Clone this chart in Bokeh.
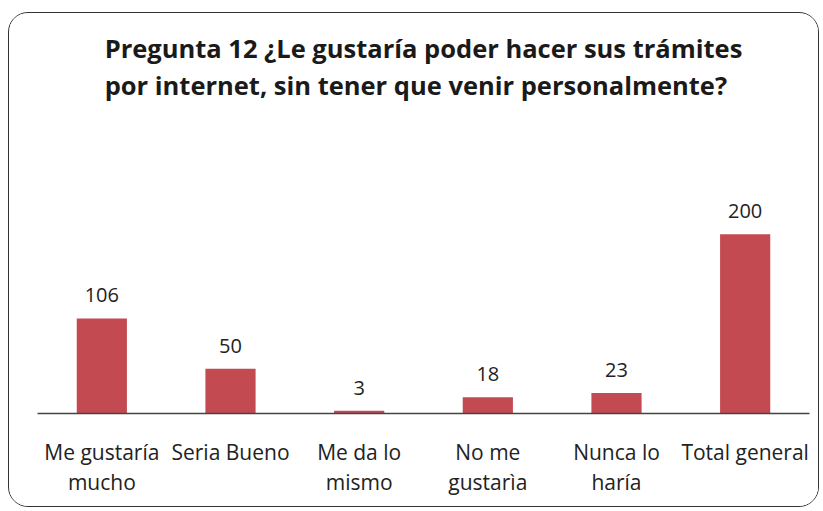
from bokeh.plotting import figure
from bokeh.models import ColumnDataSource, LabelSet, Range1d, InlineStyleSheet
from bokeh.core.properties import value
from bokeh.embed import file_html
from bokeh.resources import INLINE

categories = ["Me gustaría\nmucho", "Seria Bueno", "Me da lo\nmismo", "No me\ngustarìa", "Nunca lo\nharía", "Total general"]
values = [106, 50, 3, 18, 23, 200]
title_text = "Pregunta 12 ¿Le gustaría poder hacer sus trámites\npor internet, sin tener que venir  personalmente?"

src = ColumnDataSource(dict(cat=categories, val=values, lbl=[str(v) for v in values]))

p = figure(x_range=categories, y_range=Range1d(0, 329), width=811, height=495,
           output_backend="svg", toolbar_location=None,
           min_border_left=28, min_border_right=11, min_border_bottom=95, min_border_top=0)
p.title.text = title_text
p.title.align = "center"
p.title.text_font = "Open Sans"
p.title.text_font_size = "25.5px"
p.title.text_font_style = "bold"
p.title.text_color = "#1a1a1a"
p.title.offset = 0
p.title.standoff = 32
p.title.text_line_height = 1.1

p.vbar(x="cat", top="val", width=0.39, source=src, fill_color="#C44A52", line_color=None)
p.add_layout(LabelSet(x="cat", y="val", text="lbl", source=src, y_offset=16,
                      text_align="center", text_baseline="bottom",
                      text_font=value("Open Sans"), text_font_size="20px", text_color="#222222"))

p.yaxis.visible = False
p.xgrid.visible = False
p.ygrid.visible = False
p.outline_line_color = None
p.xaxis.axis_line_color = "#444444"
p.xaxis.axis_line_width = 1.5
p.xaxis.major_tick_line_color = None
p.xaxis.minor_tick_line_color = None
p.xaxis.major_label_standoff = 18
p.xaxis.major_label_text_font = "Open Sans"
p.xaxis.major_label_text_font_size = "21px"
p.xaxis.major_label_text_line_height = 1.1
p.xaxis.major_label_text_color = "#222222"
p.x_range.range_padding = 0

p.stylesheets = [InlineStyleSheet(css=":host { margin-left: 8px; margin-top: 12px; border: 1.5px solid #333333; border-radius: 20px; box-sizing: border-box; overflow: hidden; }")]

open("out.html", "w").write(file_html(p, INLINE))
